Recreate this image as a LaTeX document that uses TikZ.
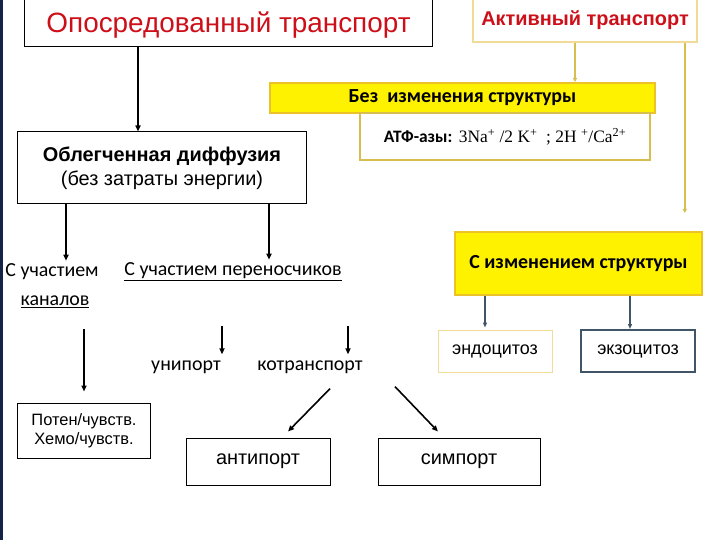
\documentclass[tikz,border=0pt]{standalone}
\usepackage{fontspec}
\setmainfont{Liberation Sans}
\newfontfamily\calibri{Carlito}
\newfontfamily\timesnum{Liberation Serif}
\usetikzlibrary{arrows.meta, positioning}

\definecolor{slidered}{RGB}{205,15,25}
\definecolor{gold}{RGB}{235,195,40}
\definecolor{yline}{RGB}{215,190,80}
\definecolor{paleborder}{RGB}{240,220,150}
\definecolor{slate}{RGB}{65,85,105}
\definecolor{navy}{RGB}{20,35,70}

\begin{document}
\begin{tikzpicture}[
    x=1bp, y=-1bp,
    box/.style={draw, rectangle, line width=1bp, inner sep=0pt, align=center},
    yellowbox/.style={box, fill=yellow, draw=gold, line width=2bp},
    label/.style={inner sep=1bp, font=\calibri\fontsize{20}{24}\selectfont},
    arrow/.style={-{Triangle[length=6bp,width=5bp]}, line width=1.6bp},
    yarrow/.style={-{Triangle[length=4bp,width=4bp]}, line width=1.5bp, draw=yline},
    barrow/.style={-{Triangle[length=5bp,width=4bp]}, line width=1.5bp, draw=slate}
    ]
    \useasboundingbox (0,0) rectangle (720,540);
    \fill[navy] (0,0) rectangle (2.5,540);

    % top row
    \node[box, minimum width=407bp, minimum height=48bp, font=\fontsize{28}{32}\selectfont, text=slidered, text depth=2bp] (med) at (228.5,23) {Опосредованный транспорт};
    \node[box, draw=paleborder, line width=1.5bp, minimum width=224bp, minimum height=43bp, font=\bfseries\fontsize{20}{24}\selectfont, text=slidered] (act) at (585,20.5) {Активный транспорт};

    % active transport branch
    \node[yellowbox, minimum width=385bp, minimum height=30bp, font=\calibri\bfseries\fontsize{20}{24}\selectfont] (noch) at (462.5,98) {Без \ изменения структуры};
    \node[box, draw=yline, line width=1.5bp, minimum width=290bp, minimum height=47bp, font=\fontsize{17.5}{21}\selectfont] (atf) at (505,136.5) {{\calibri\bfseries АТФ-азы:} {\timesnum 3Na\textsuperscript{+} /2 K\textsuperscript{+} \ ; 2H \textsuperscript{+}/Ca\textsuperscript{2+}}};
    \node[yellowbox, minimum width=247bp, minimum height=63bp, font=\calibri\bfseries\fontsize{20}{24}\selectfont] (change) at (578.5,263.5) {С изменением структуры};
    \node[box, draw=paleborder, minimum width=114bp, minimum height=42bp, font=\fontsize{18}{21}\selectfont] (endo) at (495,351) {эндоцитоз};
    \node[box, draw=slate, line width=2bp, minimum width=114bp, minimum height=42bp, font=\fontsize{18}{21}\selectfont] (exo) at (638,351) {экзоцитоз};

    % facilitated diffusion branch
    \node[box, minimum width=288bp, minimum height=72bp, font=\fontsize{20}{24}\selectfont] (diff) at (162,168) {\textbf{Облегченная диффузия}\\(без затраты энергии)};
    \node[label] (part) at (52,272) {С участием};
    \node[label] (chan) at (55,302) {\underline{каналов}};
    \node[label] (carrier) at (233,272) {\underline{С участием переносчиков}};
    \node[label] (uni) at (186,367) {унипорт};
    \node[label] (kotr) at (310,367) {котранспорт};
    \node[box, minimum width=132bp, minimum height=55bp, font=\fontsize{16.5}{19}\selectfont] (poten) at (84,430.5) {Потен/чувств.\\Хемо/чувств.};
    \node[box, minimum width=144bp, minimum height=47bp, font=\fontsize{20}{24}\selectfont] (anti) at (258,461.5) {антипорт};
    \node[box, minimum width=162bp, minimum height=47bp, font=\fontsize{20}{24}\selectfont] (symp) at (459,461.5) {симпорт};

    % entry points of the connectors
    \coordinate (diffin) at ([xshift=-24bp]diff.north);
    \coordinate (nochin) at ([xshift=-10bp]act.south);
    \coordinate (actout) at ([xshift=-13bp]act.south east);
    \coordinate (endoin) at ([xshift=-10bp]endo.north);
    \coordinate (exoin) at ([xshift=-8bp]exo.north);
    \coordinate (partin) at ([xshift=14bp]part.north);
    \coordinate (carrierin) at ([xshift=36bp]carrier.north);
    \coordinate (uniin) at ([xshift=36bp]uni.north);
    \coordinate (kotrin) at ([xshift=38bp]kotr.north);

    \draw[arrow] (diffin |- med.south) -- (diffin);
    \draw[yarrow] (nochin) -- (nochin |- noch.north);
    \draw[yarrow, shorten >=18bp] (actout) -- (actout |- change.north);
    \draw[barrow, shorten >=2bp] (endoin |- change.south) -- (endoin);
    \draw[barrow] (exoin |- change.south) -- (exoin);

    \draw[arrow, shorten >=2bp] (partin |- diff.south) -- (partin);
    \draw[arrow, shorten >=2bp] (carrierin |- diff.south) -- (carrierin);
    \draw[arrow, shorten <=20bp, shorten >=11bp] (poten.north |- chan.south) -- (poten.north);
    \draw[arrow, shorten <=44bp, shorten >=5bp] (uniin |- carrier.south) -- (uniin);
    \draw[arrow, shorten <=44bp, shorten >=5bp] (kotrin |- carrier.south) -- (kotrin);
    \draw[arrow] ([xshift=20bp, yshift=-14bp]kotr.south) -- ([xshift=30bp, yshift=6bp]anti.north);
    \draw[arrow] ([xshift=85bp, yshift=-12bp]kotr.south) -- ([xshift=-21bp, yshift=6bp]symp.north);
\end{tikzpicture}
\end{document}
